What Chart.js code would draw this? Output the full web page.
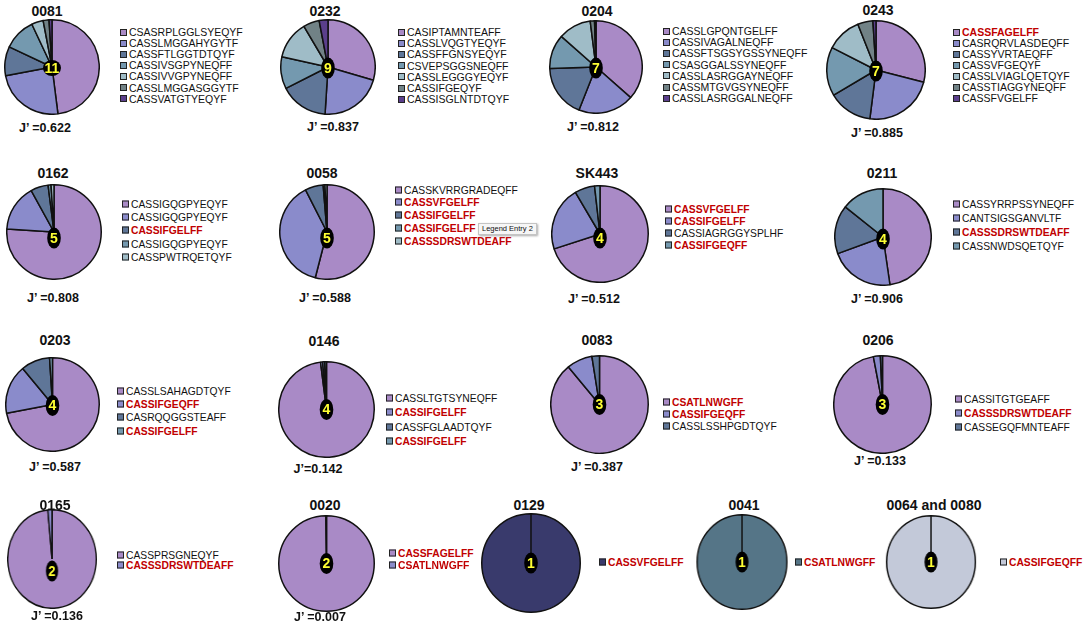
<!DOCTYPE html>
<html>
<head>
<meta charset="utf-8">
<script src="https://cdn.jsdelivr.net/npm/chart.js@4.4.1/dist/chart.umd.min.js"></script>
<style>
body{margin:0;background:#fff;width:1084px;height:623px;position:relative;overflow:hidden;font-family:Arial,"Liberation Sans",sans-serif;color:#111}
.ttl{position:absolute;font-weight:bold;font-size:14px;transform:translate(-50%,-50%);white-space:nowrap}
.jv{position:absolute;font-weight:bold;font-size:12.5px;transform:translate(-50%,-50%);white-space:nowrap}
canvas{position:absolute}
.item{position:absolute;display:flex;align-items:center;white-space:nowrap;transform:translateY(-50%)}
.sw{display:inline-block;width:5px;height:5px;border:1.2px solid #222;margin-right:2px}
.pub{color:#c00000;font-weight:bold}
.tip{position:absolute;left:478px;top:223px;height:10px;line-height:10px;font-size:7.5px;padding:0 3px;border:1px solid #c4c4c4;background:#f6f6f6;box-shadow:1px 1px 2px #aaa;white-space:nowrap}
</style>
</head>
<body>
<script>
// donors, clonotype counts and evenness
const donors = ['0081', '0232', '0204', '0243', '0162', '0058', 'SK443', '0211',
  '0203', '0146', '0083', '0206', '0165', '0020', '0129', '0041', '0064 and 0080'];
const clonotypeCounts = [11, 9, 7, 7, 5, 5, 4, 4, 4, 4, 3, 3, 2, 2, 1, 1, 1];
const jLabels = ['J\u2019 =0.622', 'J\u2019 =0.837', 'J\u2019 =0.812', 'J\u2019 =0.885',
  'J\u2019 =0.808', 'J\u2019 =0.588', 'J\u2019 =0.512', 'J\u2019 =0.906',
  'J\u2019 =0.587', 'J\u2019=0.142', 'J\u2019 =0.387', 'J\u2019 =0.133',
  'J\u2019 =0.136', 'J\u2019 =0.007', null, null, null];

// shared (public) CDR3 sequences, shown in red
const publicCdr3 = ['CASSFAGELFF', 'CASSVFGELFF', 'CASSIFGELFF', 'CASSIFGEQFF',
  'CASSSDRSWTDEAFF', 'CSATLNWGFF'];

// CDR3 legend labels per donor
const cdr3_0081 = ['CSASRPLGGLSYEQYF', 'CASSLMGGAHYGYTF', 'CASSFTLGGTDTQYF', 'CASSIVSGPYNEQFF', 'CASSIVVGPYNEQFF', 'CASSLMGGASGGYTF', 'CASSVATGTYEQYF'];
const cdr3_0232 = ['CASIPTAMNTEAFF', 'CASSLVQGTYEQYF', 'CASSFFGNSYEQYF', 'CSVEPSGGSNEQFF', 'CASSLEGGGYEQYF', 'CASSIFGEQYF', 'CASSISGLNTDTQYF'];
const cdr3_0204 = ['CASSLGPQNTGELFF', 'CASSIVAGALNEQFF', 'CASSFTSGSYGSSYNEQFF', 'CSASGGALSSYNEQFF', 'CASSLASRGGAYNEQFF', 'CASSMTGVGSYNEQFF', 'CASSLASRGGALNEQFF'];
const cdr3_0243 = ['CASSFAGELFF', 'CASRQRVLASDEQFF', 'CASSYVRTAEQFF', 'CASSVFGEQYF', 'CASSLVIAGLQETQYF', 'CASSTIAGGYNEQFF', 'CASSFVGELFF'];
const cdr3_0162 = ['CASSIGQGPYEQYF', 'CASSIGQGPYEQYF', 'CASSIFGELFF', 'CASSIGQGPYEQYF', 'CASSPWTRQETQYF'];
const cdr3_0058 = ['CASSKVRRGRADEQFF', 'CASSVFGELFF', 'CASSIFGELFF', 'CASSIFGELFF', 'CASSSDRSWTDEAFF'];
const cdr3_SK443 = ['CASSVFGELFF', 'CASSIFGELFF', 'CASSIAGRGGYSPLHF', 'CASSIFGEQFF'];
const cdr3_0211 = ['CASSYRRPSSYNEQFF', 'CANTSIGSGANVLTF', 'CASSSDRSWTDEAFF', 'CASSNWDSQETQYF'];
const cdr3_0203 = ['CASSLSAHAGDTQYF', 'CASSIFGEQFF', 'CASRQQGGSTEAFF', 'CASSIFGELFF'];
const cdr3_0146 = ['CASSLTGTSYNEQFF', 'CASSIFGELFF', 'CASSFGLAADTQYF', 'CASSIFGELFF'];
const cdr3_0083 = ['CSATLNWGFF', 'CASSIFGEQFF', 'CASSLSSHPGDTQYF'];
const cdr3_0206 = ['CASSITGTGEAFF', 'CASSSDRSWTDEAFF', 'CASSEGQFMNTEAFF'];
const cdr3_0165 = ['CASSPRSGNEQYF', 'CASSSDRSWTDEAFF'];
const cdr3_0020 = ['CASSFAGELFF', 'CSATLNWGFF'];
const cdr3_0129 = ['CASSVFGELFF'];
const cdr3_0041 = ['CSATLNWGFF'];
const cdr3_0064 = ['CASSIFGEQFF'];

// clonotype frequencies (%) per donor
const freq_0081 = [48, 24, 10, 11, 4, 2, 1];
const freq_0232 = [29.5, 21.5, 16.5, 11, 13, 5.5, 3];
const freq_0204 = [36.5, 19.5, 18.5, 12, 11.5, 1.5, 0.5];
const freq_0243 = [29, 23, 14.5, 16, 11.5, 5, 1];
const freq_0162 = [76, 16, 6, 1, 1];
const freq_0058 = [54, 38.5, 6.2, 0.6, 0.7];
const freq_SK443 = [70, 21.5, 6.7, 1.8];
const freq_0211 = [47.7, 21.7, 16.3, 14.3];
const freq_0203 = [72, 17, 10, 1];
const freq_0146 = [98, 0.7, 0.7, 0.6];
const freq_0083 = [89, 8.5, 2.5];
const freq_0206 = [97, 2.3, 0.7];
const freq_0165 = [98.5, 1.5];
const freq_0020 = [99.8, 0.2];
const freq_0129 = [100];
const freq_0041 = [100];
const freq_0064 = [100];

const cdr3Lists = [cdr3_0081, cdr3_0232, cdr3_0204, cdr3_0243, cdr3_0162, cdr3_0058, cdr3_SK443, cdr3_0211,
  cdr3_0203, cdr3_0146, cdr3_0083, cdr3_0206, cdr3_0165, cdr3_0020, cdr3_0129, cdr3_0041, cdr3_0064];
const freqLists = [freq_0081, freq_0232, freq_0204, freq_0243, freq_0162, freq_0058, freq_SK443, freq_0211,
  freq_0203, freq_0146, freq_0083, freq_0206, freq_0165, freq_0020, freq_0129, freq_0041, freq_0064];

// styling
const palette = ['#a98ac6', '#8a8bcb', '#5f7698', '#7499af', '#9fbcc7', '#718286', '#5b3f8c'];
const singleColors = {14: '#393a6c', 15: '#557587', 16: '#c3c9d9'};

// layout: pie centre/radius (+x-stretch, badge shift), title, legend and J' positions
const layout = [
  {cx: 52, cy: 67, r: 46, bd: 1, tx: 47, ty: 11, lx: 120, ly: 32, ls: 11.1, jx: 45, jy: 128, fs: 10.5},
  {cx: 328, cy: 67, r: 46, bd: 1, tx: 325, ty: 11, lx: 398, ly: 32, ls: 11.2, jx: 333, jy: 127, fs: 10.5},
  {cx: 596, cy: 67, r: 45, bd: 1, tx: 597, ty: 11, lx: 663, ly: 31, ls: 11.2, jx: 593, jy: 127, fs: 10.5},
  {cx: 876, cy: 70, r: 48, bd: 1, tx: 878, ty: 10, lx: 953, ly: 32, ls: 11, jx: 877, jy: 133, fs: 10.5},
  {cx: 54, cy: 232, r: 46, bd: 6, tx: 53, ty: 173, lx: 122, ly: 203.5, ls: 13.4, jx: 53, jy: 298, fs: 10.3},
  {cx: 327, cy: 232, r: 46, bd: 6, tx: 322, ty: 173, lx: 395, ly: 189.5, ls: 12.8, jx: 325, jy: 298, fs: 10.3},
  {cx: 600, cy: 234, r: 47, bd: 4, tx: 597, ty: 173, lx: 665, ly: 209, ls: 12.1, jx: 594, jy: 299, fs: 10.3},
  {cx: 883, cy: 237, r: 47, bd: 2, tx: 882, ty: 173, lx: 953, ly: 204, ls: 13.9, jx: 877, jy: 299, fs: 10.3},
  {cx: 52, cy: 404, r: 45.5, bd: 1, tx: 55, ty: 340, lx: 117, ly: 391, ls: 13.2, jx: 55, jy: 467, fs: 10.3},
  {cx: 326, cy: 409, r: 46.5, bd: 0, tx: 324, ty: 341, lx: 386, ly: 398, ls: 14.3, jx: 318, jy: 469, fs: 10.3},
  {cx: 599, cy: 404, r: 47.5, bd: 0, tx: 597, ty: 340, lx: 663, ly: 402, ls: 12.2, jx: 597, jy: 467, fs: 10.3},
  {cx: 882, cy: 404, r: 47.5, bd: 0, tx: 878, ty: 340, lx: 955, ly: 399, ls: 13.9, jx: 880, jy: 461, fs: 10.3},
  {cx: 52, cy: 559, r: 48, sx: 0.9, bd: 12, tx: 55, ty: 505, lx: 117, ly: 555, ls: 10.3, jx: 57, jy: 616, fs: 10.3},
  {cx: 326, cy: 563, r: 46.5, bd: 0, tx: 325, ty: 505, lx: 389, ly: 553, ls: 12, jx: 320, jy: 617, fs: 10.3},
  {cx: 531, cy: 563, r: 48, bd: 0, tx: 529, ty: 505, lx: 599, ly: 562, ls: 12, fs: 10.3},
  {cx: 742, cy: 562, r: 46, sx: 0.95, bd: 0, tx: 744, ty: 505, lx: 795, ly: 562, ls: 12, fs: 10.3},
  {cx: 931, cy: 562, r: 45, sx: 0.96, bd: 0, tx: 934, ty: 505, lx: 1000, ly: 562, ls: 12, fs: 10.3}
];

const centerBadge = {
  id: 'centerBadge',
  afterDatasetsDraw(chart, args, opts) {
    const arc = chart.getDatasetMeta(0).data[0];
    const ctx = chart.ctx;
    const txt = String(opts.count);
    const rx = txt.length > 1 ? 9 : 6.8;
    const ry = txt.length > 1 ? 8 : 10.5;
    const y = arc.y + opts.dy;
    ctx.save();
    ctx.beginPath();
    ctx.ellipse(arc.x, y, rx, ry, 0, 0, Math.PI * 2);
    ctx.fillStyle = '#000';
    ctx.fill();
    ctx.fillStyle = '#ffff33';
    ctx.font = 'bold 14px Arial, "Liberation Sans", sans-serif';
    ctx.textAlign = 'center';
    ctx.textBaseline = 'middle';
    ctx.fillText(txt, arc.x, y + 1);
    ctx.restore();
  }
};

function addText(cls, text, x, y) {
  const d = document.createElement('div');
  d.className = cls;
  d.textContent = text;
  d.style.left = x + 'px';
  d.style.top = y + 'px';
  document.body.appendChild(d);
}

donors.forEach((name, i) => {
  const L = layout[i];
  const colors = singleColors[i] ? [singleColors[i]] : palette.slice(0, freqLists[i].length);
  const size = Math.round(2 * L.r + 4);
  const cv = document.createElement('canvas');
  cv.width = size;
  cv.height = size;
  cv.style.left = (L.cx - size / 2) + 'px';
  cv.style.top = (L.cy - size / 2) + 'px';
  if (L.sx) cv.style.transform = 'scaleX(' + L.sx + ')';
  document.body.appendChild(cv);

  new Chart(cv.getContext('2d'), {
    type: 'pie',
    data: {
      labels: cdr3Lists[i],
      datasets: [{
        data: freqLists[i],
        backgroundColor: colors,
        borderColor: '#111',
        borderWidth: 1.5
      }]
    },
    options: {
      responsive: false,
      animation: false,
      layout: {padding: 0},
      plugins: {
        legend: {display: false},
        tooltip: {enabled: false},
        centerBadge: {count: clonotypeCounts[i], dy: L.bd}
      }
    },
    plugins: [centerBadge]
  });

  addText('ttl', name, L.tx, L.ty);
  if (jLabels[i]) addText('jv', jLabels[i], L.jx, L.jy);

  cdr3Lists[i].forEach((seq, k) => {
    const it = document.createElement('div');
    it.className = 'item';
    it.style.left = L.lx + 'px';
    it.style.top = (L.ly + k * L.ls) + 'px';
    it.style.fontSize = L.fs + 'px';
    const sw = document.createElement('span');
    sw.className = 'sw';
    sw.style.background = colors[k];
    const tx = document.createElement('span');
    tx.textContent = seq;
    if (publicCdr3.includes(seq)) tx.className = 'pub';
    it.appendChild(sw);
    it.appendChild(tx);
    document.body.appendChild(it);
  });
});

const tip = document.createElement('div');
tip.className = 'tip';
tip.textContent = 'Legend Entry 2';
document.body.appendChild(tip);
</script>
</body>
</html>
